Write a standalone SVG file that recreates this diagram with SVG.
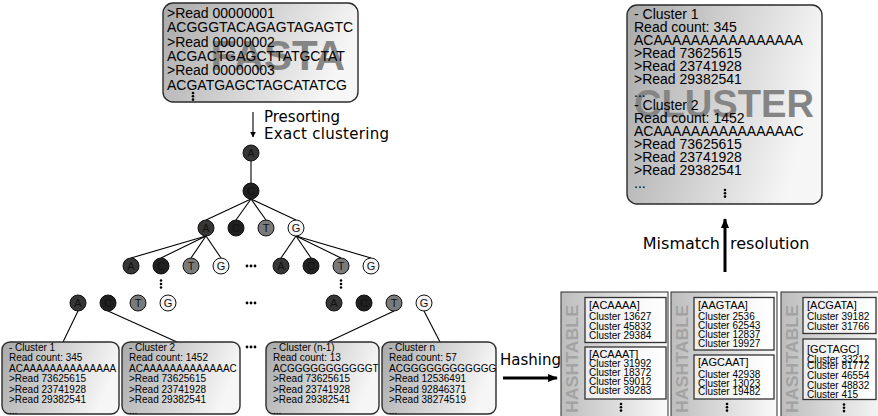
<svg xmlns="http://www.w3.org/2000/svg" width="878" height="416" viewBox="0 0 878 416">
  <defs>
    <linearGradient id="boxGrad" x1="0" y1="0" x2="1" y2="0.25">
      <stop offset="0" stop-color="#a9a9a9"/>
      <stop offset="1" stop-color="#f6f6f6"/>
    </linearGradient>
    <linearGradient id="tableGrad" x1="0" y1="0" x2="1" y2="0">
      <stop offset="0" stop-color="#bdbdbd"/>
      <stop offset="1" stop-color="#fafafa"/>
    </linearGradient>
    <linearGradient id="cellGrad" x1="0" y1="0" x2="1" y2="0">
      <stop offset="0" stop-color="#ececec"/>
      <stop offset="1" stop-color="#ffffff"/>
    </linearGradient>
    <marker id="headSmall" viewBox="0 0 10 10" refX="9" refY="5" markerWidth="6" markerHeight="6" orient="auto" markerUnits="userSpaceOnUse">
      <path d="M0,0 L10,5 L0,10 z" fill="#000"/>
    </marker>
    <marker id="headBig" viewBox="0 0 10 10" refX="9" refY="5" markerWidth="10" markerHeight="10" orient="auto" markerUnits="userSpaceOnUse">
      <path d="M0,1 L10,5 L0,9 z" fill="#000"/>
    </marker>
  </defs>
  <style>
    .box { fill: url(#boxGrad); stroke: #2b2b2b; stroke-width: 1.4; }
    .txt14 { font-family: "Liberation Sans", Arial, sans-serif; font-size: 14px; fill: #000; }
    .txt10 { font-family: "Liberation Sans", Arial, sans-serif; font-size: 10px; fill: #000; }
    .head11 { font-family: "Liberation Sans", Arial, sans-serif; font-size: 11px; fill: #000; }
    .mark { font-family: "Liberation Sans", Arial, sans-serif; font-weight: bold; fill: #858585; }
    .label { font-family: "DejaVu Sans", Verdana, sans-serif; font-size: 15px; fill: #000; }
    .label16 { font-family: "DejaVu Sans", Verdana, sans-serif; font-size: 16px; fill: #000; }
    .edge { stroke: #000; stroke-width: 1.1; fill: none; }
    .node circle { stroke: #111; stroke-width: 1; }
    .node text { font-family: "Liberation Sans", Arial, sans-serif; font-size: 11px; fill: #111; text-anchor: middle; }
    .nA { fill: #363636; }
    .nC { fill: #202020; }
    .nT { fill: #7a7a7a; }
    .nG { fill: #f5f5f5; }
    .dot { fill: #000; }
    .table { fill: url(#tableGrad); stroke: #2b2b2b; stroke-width: 1; }
    .cell { fill: url(#cellGrad); stroke: #333; stroke-width: 1.3; }
    .htitle { font-family: "Liberation Sans", Arial, sans-serif; font-weight: bold; font-size: 17px; fill: #a3a3a3; text-anchor: middle; }
  </style>

  <!-- FASTA input -->
  <g id="fasta">
    <rect class="box" x="163" y="3" width="195" height="99" rx="10"/>
    <text class="mark" x="345" y="70" font-size="42" text-anchor="end">FASTA</text>
    <text class="txt14" x="167" y="18">&gt;Read 00000001</text>
    <text class="txt14" x="167" y="32.3">ACGGGTACAGAGTAGAGTC</text>
    <text class="txt14" x="167" y="46.6">&gt;Read 00000002</text>
    <text class="txt14" x="167" y="60.9">ACGACTGAGCTTATGCTAT</text>
    <text class="txt14" x="167" y="75.2">&gt;Read 00000003</text>
    <text class="txt14" x="167" y="89.5">ACGATGAGCTAGCATATCG</text>
    <circle class="dot" cx="193" cy="93" r="1.3"/><circle class="dot" cx="193" cy="96.3" r="1.3"/><circle class="dot" cx="193" cy="99.6" r="1.3"/>
  </g>

  <!-- CLUSTER output -->
  <g id="cluster-output">
    <rect class="box" x="627" y="5" width="195" height="199" rx="10"/>
    <text class="mark" x="634" y="117" font-size="38" textLength="180" lengthAdjust="spacingAndGlyphs">CLUSTER</text>
    <text class="txt14" x="634" y="18.5">- Cluster 1</text>
    <text class="txt14" x="634" y="31.5">Read count: 345</text>
    <text class="txt14" x="634" y="44.5">ACAAAAAAAAAAAAAAAA</text>
    <text class="txt14" x="634" y="57.5">&gt;Read 73625615</text>
    <text class="txt14" x="634" y="70.5">&gt;Read 23741928</text>
    <text class="txt14" x="634" y="83.5">&gt;Read 29382541</text>
    <text class="txt14" x="634" y="96.5">...</text>
    <text class="txt14" x="634" y="109.5">- Cluster 2</text>
    <text class="txt14" x="634" y="122.5">Read count: 1452</text>
    <text class="txt14" x="634" y="135.5">ACAAAAAAAAAAAAAAAC</text>
    <text class="txt14" x="634" y="148.5">&gt;Read 73625615</text>
    <text class="txt14" x="634" y="161.5">&gt;Read 23741928</text>
    <text class="txt14" x="634" y="174.5">&gt;Read 29382541</text>
    <text class="txt14" x="634" y="187.5">...</text>
    <circle class="dot" cx="725" cy="190" r="1.3"/><circle class="dot" cx="725" cy="193.3" r="1.3"/><circle class="dot" cx="725" cy="196.6" r="1.3"/>
  </g>

  <!-- connectors -->
  <g id="connectors">
    <line class="edge" x1="253" y1="112" x2="253" y2="137" stroke-width="1.6" marker-end="url(#headSmall)"/>
    <line x1="725" y1="272" x2="725" y2="219" stroke="#000" stroke-width="3" marker-end="url(#headBig)"/>
    <line x1="503" y1="378" x2="557" y2="378" stroke="#000" stroke-width="3" marker-end="url(#headBig)"/>
    <!-- tree edges -->
    <line class="edge" x1="251" y1="161" x2="251" y2="183"/>
    <line class="edge" x1="251" y1="199" x2="206" y2="220"/>
    <line class="edge" x1="251" y1="199" x2="236" y2="220"/>
    <line class="edge" x1="251" y1="199" x2="266" y2="220"/>
    <line class="edge" x1="251" y1="199" x2="296" y2="220"/>
    <line class="edge" x1="206" y1="236" x2="131" y2="258"/>
    <line class="edge" x1="206" y1="236" x2="161" y2="258"/>
    <line class="edge" x1="206" y1="236" x2="191" y2="258"/>
    <line class="edge" x1="206" y1="236" x2="221" y2="258"/>
    <line class="edge" x1="296" y1="236" x2="281" y2="258"/>
    <line class="edge" x1="296" y1="236" x2="311" y2="258"/>
    <line class="edge" x1="296" y1="236" x2="341" y2="258"/>
    <line class="edge" x1="296" y1="236" x2="371" y2="258"/>
    <line class="edge" x1="78" y1="311" x2="63" y2="342"/>
    <line class="edge" x1="108" y1="311" x2="177" y2="342"/>
    <line class="edge" x1="394" y1="311" x2="328" y2="342"/>
    <line class="edge" x1="424" y1="311" x2="440" y2="342"/>
  </g>

  <!-- arrow labels -->
  <g id="labels">
    <text class="label" x="264" y="122">Presorting</text>
    <text class="label" x="264" y="139" textLength="125">Exact clustering</text>
    <text class="label16" x="720" y="249" text-anchor="end">Mismatch</text>
    <text class="label16" x="730" y="249">resolution</text>
    <text class="label" x="500" y="365">Hashing</text>
  </g>

  <!-- prefix tree -->
  <g id="tree-root" class="node"><circle class="nA" cx="251" cy="153" r="8"/><text x="251" y="157">A</text></g>
  <g id="tree-c" class="node"><circle class="nC" cx="251" cy="191" r="8"/><text x="251" y="195">C</text></g>
  <g id="l2-a" class="node"><circle class="nA" cx="206" cy="228" r="8"/><text x="206" y="232">A</text></g>
  <g id="l2-c" class="node"><circle class="nC" cx="236" cy="228" r="8"/><text x="236" y="232">C</text></g>
  <g id="l2-t" class="node"><circle class="nT" cx="266" cy="228" r="8"/><text x="266" y="232">T</text></g>
  <g id="l2-g" class="node"><circle class="nG" cx="296" cy="228" r="8"/><text x="296" y="232">G</text></g>
  <g id="l3-a1" class="node"><circle class="nA" cx="131" cy="266" r="8"/><text x="131" y="270">A</text></g>
  <g id="l3-c1" class="node"><circle class="nC" cx="161" cy="266" r="8"/><text x="161" y="270">C</text></g>
  <g id="l3-t1" class="node"><circle class="nT" cx="191" cy="266" r="8"/><text x="191" y="270">T</text></g>
  <g id="l3-g1" class="node"><circle class="nG" cx="221" cy="266" r="8"/><text x="221" y="270">G</text></g>
  <g id="l3-a2" class="node"><circle class="nA" cx="281" cy="266" r="8"/><text x="281" y="270">A</text></g>
  <g id="l3-c2" class="node"><circle class="nC" cx="311" cy="266" r="8"/><text x="311" y="270">C</text></g>
  <g id="l3-t2" class="node"><circle class="nT" cx="341" cy="266" r="8"/><text x="341" y="270">T</text></g>
  <g id="l3-g2" class="node"><circle class="nG" cx="371" cy="266" r="8"/><text x="371" y="270">G</text></g>
  <g id="l4-a1" class="node"><circle class="nA" cx="78" cy="303" r="8"/><text x="78" y="307">A</text></g>
  <g id="l4-c1" class="node"><circle class="nC" cx="108" cy="303" r="8"/><text x="108" y="307">C</text></g>
  <g id="l4-t1" class="node"><circle class="nT" cx="138" cy="303" r="8"/><text x="138" y="307">T</text></g>
  <g id="l4-g1" class="node"><circle class="nG" cx="168" cy="303" r="8"/><text x="168" y="307">G</text></g>
  <g id="l4-a2" class="node"><circle class="nA" cx="334" cy="303" r="8"/><text x="334" y="307">A</text></g>
  <g id="l4-c2" class="node"><circle class="nC" cx="364" cy="303" r="8"/><text x="364" y="307">C</text></g>
  <g id="l4-t2" class="node"><circle class="nT" cx="394" cy="303" r="8"/><text x="394" y="307">T</text></g>
  <g id="l4-g2" class="node"><circle class="nG" cx="424" cy="303" r="8"/><text x="424" y="307">G</text></g>

  <!-- ellipses in the tree -->
  <g id="tree-ellipses">
    <circle class="dot" cx="247" cy="266" r="1.4"/><circle class="dot" cx="251" cy="266" r="1.4"/><circle class="dot" cx="255" cy="266" r="1.4"/>
    <circle class="dot" cx="247" cy="303" r="1.4"/><circle class="dot" cx="251" cy="303" r="1.4"/><circle class="dot" cx="255" cy="303" r="1.4"/>
    <circle class="dot" cx="161" cy="280.5" r="1.3"/><circle class="dot" cx="161" cy="284" r="1.3"/><circle class="dot" cx="161" cy="287.5" r="1.3"/>
    <circle class="dot" cx="341" cy="280.5" r="1.3"/><circle class="dot" cx="341" cy="284" r="1.3"/><circle class="dot" cx="341" cy="287.5" r="1.3"/>
    <circle class="dot" cx="247" cy="347" r="1.4"/><circle class="dot" cx="251" cy="347" r="1.4"/><circle class="dot" cx="255" cy="347" r="1.4"/>
  </g>

  <!-- leaf clusters -->
  <g id="cluster-1">
    <rect class="box" x="2" y="342" width="117" height="72" rx="8"/>
    <text class="txt10" x="9" y="350.5">- Cluster 1</text>
    <text class="txt10" x="9" y="361">Read count: 345</text>
    <text class="txt10" x="9" y="371.5">ACAAAAAAAAAAAAAA</text>
    <text class="txt10" x="9" y="382">&gt;Read 73625615</text>
    <text class="txt10" x="9" y="392.5">&gt;Read 23741928</text>
    <text class="txt10" x="9" y="403">&gt;Read 29382541</text>
    <text class="txt10" x="9" y="413.5">...</text>
  </g>
  <g id="cluster-2">
    <rect class="box" x="122" y="342" width="118" height="72" rx="8"/>
    <text class="txt10" x="129" y="350.5">- Cluster 2</text>
    <text class="txt10" x="129" y="361">Read count: 1452</text>
    <text class="txt10" x="129" y="371.5">ACAAAAAAAAAAAAAC</text>
    <text class="txt10" x="129" y="382">&gt;Read 73625615</text>
    <text class="txt10" x="129" y="392.5">&gt;Read 23741928</text>
    <text class="txt10" x="129" y="403">&gt;Read 29382541</text>
    <text class="txt10" x="129" y="413.5">...</text>
  </g>
  <g id="cluster-n-1">
    <rect class="box" x="266" y="342" width="113" height="72" rx="8"/>
    <text class="txt10" x="273" y="350.5">- Cluster (n-1)</text>
    <text class="txt10" x="273" y="361">Read count: 13</text>
    <text class="txt10" x="273" y="371.5">ACGGGGGGGGGGGT</text>
    <text class="txt10" x="273" y="382">&gt;Read 73625615</text>
    <text class="txt10" x="273" y="392.5">&gt;Read 23741928</text>
    <text class="txt10" x="273" y="403">&gt;Read 29382541</text>
    <text class="txt10" x="273" y="413.5">...</text>
  </g>
  <g id="cluster-n">
    <rect class="box" x="382" y="342" width="114" height="72" rx="8"/>
    <text class="txt10" x="389" y="350.5">- Cluster n</text>
    <text class="txt10" x="389" y="361">Read count: 57</text>
    <text class="txt10" x="389" y="371.5">ACGGGGGGGGGGGG</text>
    <text class="txt10" x="389" y="382">&gt;Read 12536491</text>
    <text class="txt10" x="389" y="392.5">&gt;Read 92846371</text>
    <text class="txt10" x="389" y="403">&gt;Read 38274519</text>
    <text class="txt10" x="389" y="413.5">...</text>
  </g>

  <!-- hash tables -->
  <g id="hashtable-1">
    <rect class="table" x="561" y="292" width="107" height="130"/>
    <text class="htitle" transform="translate(578,359) rotate(-90)" textLength="108" lengthAdjust="spacingAndGlyphs">HASHTABLE</text>
    <rect class="cell" x="585" y="297.5" width="81" height="45"/>
    <text class="head11" x="589" y="309">[ACAAAA]</text>
    <text class="txt10" x="589" y="320">Cluster 13627</text>
    <text class="txt10" x="589" y="329.5">Cluster 45832</text>
    <text class="txt10" x="589" y="339">Cluster 29384</text>
    <rect class="cell" x="585" y="347" width="81" height="52"/>
    <text class="head11" x="589" y="357.5">[ACAAAT]</text>
    <text class="txt10" x="589" y="367">Cluster 31992</text>
    <text class="txt10" x="589" y="375.5">Cluster 18372</text>
    <text class="txt10" x="589" y="384.5">Cluster 59012</text>
    <text class="txt10" x="589" y="393.5">Cluster 39283</text>
    <circle class="dot" cx="621" cy="404" r="1.3"/><circle class="dot" cx="621" cy="407.3" r="1.3"/><circle class="dot" cx="621" cy="410.6" r="1.3"/>
  </g>
  <g id="hashtable-2">
    <rect class="table" x="671" y="292" width="106" height="130"/>
    <text class="htitle" transform="translate(688,359) rotate(-90)" textLength="108" lengthAdjust="spacingAndGlyphs">HASHTABLE</text>
    <rect class="cell" x="694" y="297.5" width="80" height="52.5"/>
    <text class="head11" x="698" y="309">[AAGTAA]</text>
    <text class="txt10" x="698" y="320.3">Cluster 2536</text>
    <text class="txt10" x="698" y="328.6">Cluster 62543</text>
    <text class="txt10" x="698" y="337.6">Cluster 12837</text>
    <text class="txt10" x="698" y="347">Cluster 19927</text>
    <rect class="cell" x="694" y="355" width="80" height="44"/>
    <text class="head11" x="698" y="366">[AGCAAT]</text>
    <text class="txt10" x="698" y="377.6">Cluster 42938</text>
    <text class="txt10" x="698" y="387">Cluster 13023</text>
    <text class="txt10" x="698" y="395.3">Cluster 19482</text>
    <circle class="dot" cx="727" cy="404" r="1.3"/><circle class="dot" cx="727" cy="407.3" r="1.3"/><circle class="dot" cx="727" cy="410.6" r="1.3"/>
  </g>
  <g id="hashtable-3">
    <rect class="table" x="781" y="292" width="110" height="130"/>
    <text class="htitle" transform="translate(798,359) rotate(-90)" textLength="108" lengthAdjust="spacingAndGlyphs">HASHTABLE</text>
    <rect class="cell" x="803" y="297.5" width="73" height="36"/>
    <text class="head11" x="807" y="309">[ACGATA]</text>
    <text class="txt10" x="807" y="320.3">Cluster 39182</text>
    <text class="txt10" x="807" y="330.3">Cluster 31766</text>
    <rect class="cell" x="803" y="339" width="73" height="60.5"/>
    <text class="head11" x="807" y="352.5">[GCTAGC]</text>
    <text class="txt10" x="807" y="363">Cluster 33212</text>
    <text class="txt10" x="807" y="368.6">Cluster 81772</text>
    <text class="txt10" x="807" y="378.6">Cluster 46554</text>
    <text class="txt10" x="807" y="388.6">Cluster 48832</text>
    <text class="txt10" x="807" y="398">Cluster 415</text>
    <circle class="dot" cx="844" cy="404.5" r="1.3"/><circle class="dot" cx="844" cy="407.8" r="1.3"/><circle class="dot" cx="844" cy="411.1" r="1.3"/>
  </g>
</svg>
